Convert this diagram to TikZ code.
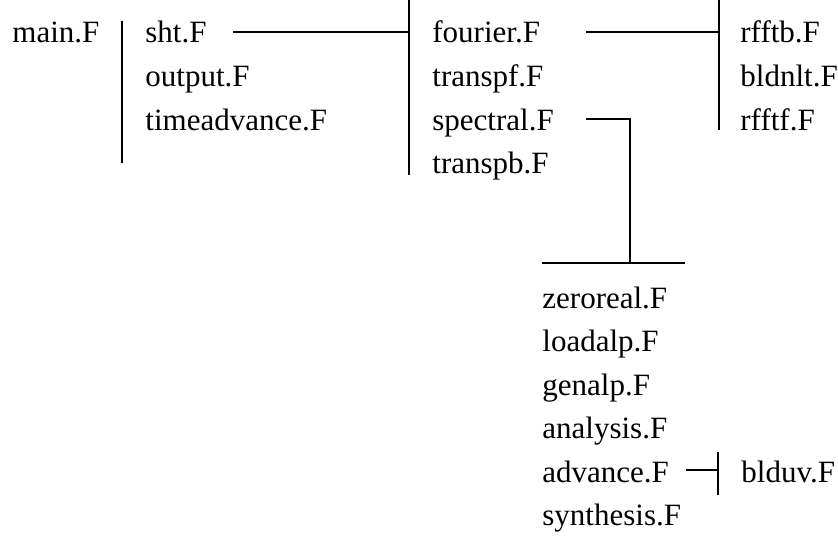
\documentclass[tikz,border=0pt]{standalone}
\usepackage{fontspec}
\setmainfont{Liberation Serif}
\begin{document}
\begin{tikzpicture}[x=0.5pt,y=-0.5pt,
  lbl/.style={anchor=base west,inner sep=0pt,font=\fontsize{15.5}{18}\selectfont},
  conn/.style={line width=0.6pt,black}]
\useasboundingbox (0,0) rectangle (838,540);
% level 0
\node[lbl] (main) at (12,43) {main.F};
% level 1
\node[lbl] (sht) at (145,43) {sht.F};
\node[lbl] (output) at (145,86.5) {output.F};
\node[lbl] (timeadv) at (145,130) {timeadvance.F};
% level 2
\node[lbl] (fourier) at (432,43) {fourier.F};
\node[lbl] (transpf) at (432,86.5) {transpf.F};
\node[lbl] (spectral) at (432,130) {spectral.F};
\node[lbl] (transpb) at (432,173.5) {transpb.F};
% level 3
\node[lbl] (rfftb) at (740,43) {rfftb.F};
\node[lbl] (bldnlt) at (740,86.5) {bldnlt.F};
\node[lbl] (rfftf) at (740,130) {rfftf.F};
% spectral children
\node[lbl] (zeroreal) at (542,308) {zeroreal.F};
\node[lbl] (loadalp) at (542,351.5) {loadalp.F};
\node[lbl] (genalp) at (542,395) {genalp.F};
\node[lbl] (analysis) at (542,438.5) {analysis.F};
\node[lbl] (advance) at (542,482) {advance.F};
\node[lbl] (synthesis) at (542,525.5) {synthesis.F};
\node[lbl] (blduv) at (741,482) {blduv.F};
% bars
\coordinate (b1t) at (122,21); \coordinate (b1b) at (122,163);
\coordinate (b2t) at (409,0);  \coordinate (b2b) at (409,175);
\coordinate (b3t) at (719,0);  \coordinate (b3b) at (719,130);
\coordinate (b4t) at (718,452); \coordinate (b4b) at (718,495);
\coordinate (h1l) at (542,263); \coordinate (h1r) at (685,263);
\draw[conn] (b1t) -- (b1b);
\draw[conn] (b2t) -- (b2b);
\draw[conn] (b3t) -- (b3b);
\draw[conn] (b4t) -- (b4b);
\draw[conn] (h1l) -- (h1r);
% connectors
\coordinate (c1) at (233,32);
\coordinate (c2) at (586,32);
\coordinate (c3) at (586,119);
\coordinate (c4) at (686,470);
\draw[conn] (c1) -- (c1 -| b2t);
\draw[conn] (c2) -- (c2 -| b3t);
\draw[conn] (c3) -- (630,119) -- (630,263);
\draw[conn] (c4) -- (c4 -| b4t);
\end{tikzpicture}
\end{document}
